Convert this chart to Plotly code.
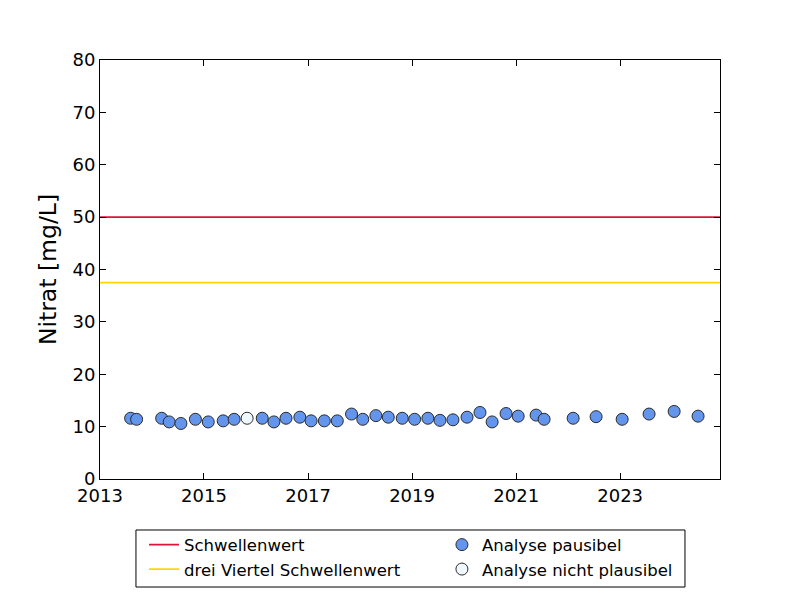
import plotly.graph_objects as go

# Data
dates_ok = ["2013-08-04", "2013-09-15", "2014-03-10", "2014-05-02", "2014-07-23", "2014-11-02",
            "2015-01-31", "2015-05-16", "2015-08-01", "2016-02-14", "2016-05-06",
            "2016-07-30", "2016-11-04", "2017-01-22", "2017-04-25", "2017-07-25", "2017-11-02",
            "2018-01-20", "2018-04-22", "2018-07-18", "2018-10-24", "2019-01-19", "2019-04-22",
            "2019-07-16", "2019-10-15", "2020-01-22", "2020-04-22", "2020-07-16", "2020-10-22",
            "2021-01-15", "2021-05-21", "2021-07-16", "2022-02-05", "2022-07-16", "2023-01-15",
            "2023-07-23", "2024-01-15", "2024-07-01"]
values_ok = [11.6, 11.4, 11.6, 10.9, 10.6, 11.4,
             10.9, 11.1, 11.4, 11.6, 10.9,
             11.6, 11.8, 11.1, 11.1, 11.1, 12.4,
             11.4, 12.1, 11.8, 11.6, 11.4, 11.6,
             11.2, 11.3, 11.8, 12.7, 10.9, 12.5,
             12.0, 12.2, 11.4, 11.6, 11.9, 11.4,
             12.4, 12.9, 12.0]
dates_bad = ["2015-10-31"]
values_bad = [11.6]

schwellenwert = 50
drei_viertel = 37.5
x_range = ["2013-01-01", "2024-12-02"]
y_range = [0, 80]
labels = ["Schwellenwert", "drei Viertel Schwellenwert", "Analyse pausibel", "Analyse nicht plausibel"]

fig = go.Figure()
fig.add_trace(go.Scatter(x=x_range, y=[schwellenwert] * 2, mode="lines",
                         line=dict(color="#DC143C", width=1.8), name=labels[0], legend="legend"))
fig.add_trace(go.Scatter(x=x_range, y=[drei_viertel] * 2, mode="lines",
                         line=dict(color="#FFD700", width=1.8), name=labels[1], legend="legend"))
fig.add_trace(go.Scatter(x=dates_ok, y=values_ok, mode="markers",
                         marker=dict(size=12, color="#6495ED", line=dict(color="#2a2a2a", width=1)),
                         name=labels[2], legend="legend2"))
fig.add_trace(go.Scatter(x=dates_bad, y=values_bad, mode="markers",
                         marker=dict(size=12, color="#F0F8FF", line=dict(color="#2a2a2a", width=1)),
                         name=labels[3], legend="legend2"))

axis_common = dict(showline=True, linecolor="black", linewidth=1, mirror="ticks",
                   ticks="inside", ticklen=6, tickcolor="black", showgrid=False, zeroline=False,
                   tickfont=dict(size=18, color="black"))

fig.update_layout(
    width=792, height=592,
    margin=dict(l=92, r=80, t=52, b=121),
    paper_bgcolor="white", plot_bgcolor="white",
    font=dict(family="DejaVu Sans", color="black"),
    xaxis=dict(type="date", range=x_range, tick0="2013-01-01", dtick="M24", tickformat="%Y",
               **axis_common),
    yaxis=dict(range=y_range, dtick=10, title=dict(text="Nitrat [mg/L]", font=dict(size=23.5), standoff=9),
               **axis_common),
    legend=dict(x=0.071, y=-0.1155, xanchor="left", yanchor="top", bgcolor="rgba(0,0,0,0)",
                font=dict(size=16.5), tracegroupgap=0),
    legend2=dict(x=0.5515, y=-0.1155, xanchor="left", yanchor="top", bgcolor="rgba(0,0,0,0)",
                 font=dict(size=16.5), tracegroupgap=0),
    shapes=[dict(type="rect", xref="paper", yref="paper", x0=0.058, x1=0.9435, y0=-0.2578, y1=-0.1217,
                 line=dict(color="black", width=1))],
)

fig.write_html("out.html")
